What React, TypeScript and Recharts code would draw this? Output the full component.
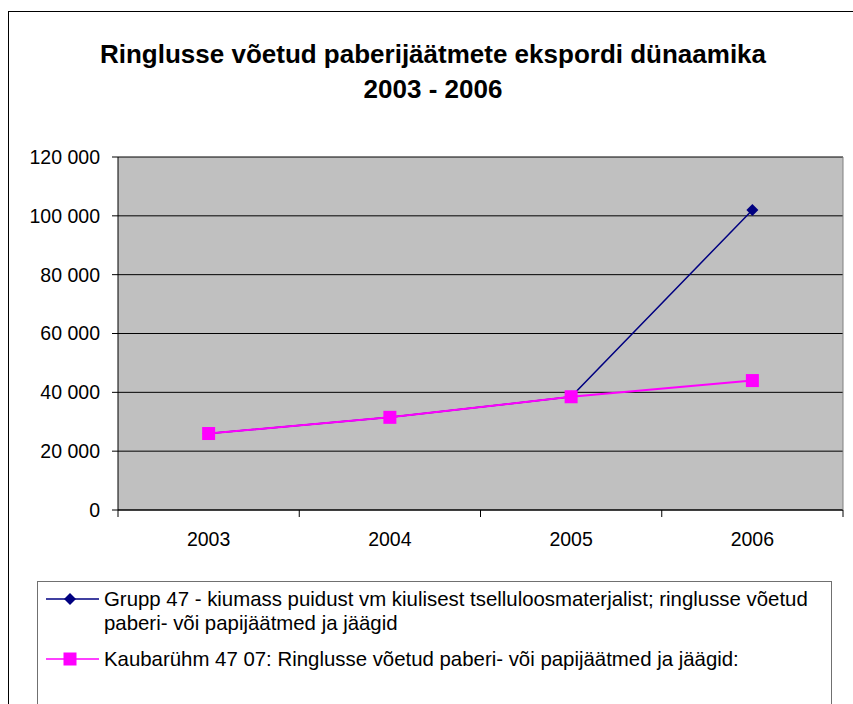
import { LineChart, Line, XAxis, YAxis, CartesianGrid } from 'recharts';

const YEARS = ['2003', '2004', '2005', '2006'];
const GRUPP_47 = [26000, 31500, 38500, 102000];
const KAUBARYHM_4707 = [26000, 31500, 38500, 44000];
const Y_TICKS = [0, 20000, 40000, 60000, 80000, 100000, 120000];

const TITLE = ['Ringlusse võetud paberijäätmete ekspordi dünaamika', '2003 - 2006'];
const NAME_GRUPP = 'Grupp 47 - kiumass puidust vm kiulisest tselluloosmaterjalist; ringlusse võetud paberi- või papijäätmed ja jäägid';
const NAME_KAUBA = 'Kaubarühm 47 07: Ringlusse võetud paberi- või papijäätmed ja jäägid:';

const data = YEARS.map((y, i) => ({ year: y, grupp: GRUPP_47[i], kauba: KAUBARYHM_4707[i] }));

const FONT = '"Liberation Sans", Arial, sans-serif';
const PLOT_LEFT = 118;
const PLOT_RIGHT = 843;
const PLOT_TOP = 157;
const PLOT_BOTTOM = 510;
const X_AXIS_H = 40;
const HALF_BAND = (PLOT_RIGHT - PLOT_LEFT) / YEARS.length / 2;

const fmt = (v: number) => String(v).replace(/\B(?=(\d{3})+(?!\d))/g, ' ');

const Diamond = ({ cx, cy }: any) => {
  if (cx == null || cy == null) return null;
  const r = 6;
  return <path d={`M${cx},${cy - r}L${cx + r},${cy}L${cx},${cy + r}L${cx - r},${cy}Z`} fill="#000080" />;
};

const Square = ({ cx, cy }: any) => {
  if (cx == null || cy == null) return null;
  const s = 13;
  return <rect x={cx - s / 2} y={cy - s / 2} width={s} height={s} fill="#FF00FF" />;
};

const YearTick = ({ x, payload, index }: any) => (
  <g>
    <line x1={x - HALF_BAND} x2={x - HALF_BAND} y1={PLOT_BOTTOM} y2={PLOT_BOTTOM + 7} stroke="#000" />
    {index === YEARS.length - 1 && (
      <line x1={x + HALF_BAND} x2={x + HALF_BAND} y1={PLOT_BOTTOM} y2={PLOT_BOTTOM + 7} stroke="#000" />
    )}
    <text x={x} y={539} textAnchor="middle" dominantBaseline="central" fontSize={19.5} fontFamily={FONT} fill="#000">
      {payload.value}
    </text>
  </g>
);

const LegendRow = ({ color, marker, label, top }: any) => (
  <div style={{ position: 'absolute', left: 0, top, width: 792, display: 'flex' }}>
    <svg width={66} height={24} style={{ flex: 'none' }}>
      <line x1={8} x2={61} y1={12} y2={12} stroke={color} strokeWidth={1.5} />
      {marker === 'diamond' ? <Diamond cx={32} cy={12} /> : <Square cx={32} cy={12} />}
    </svg>
    <div style={{ fontSize: 20.4, lineHeight: '24px' }}>{label}</div>
  </div>
);

export default function App() {
  return (
    <div style={{ position: 'absolute', left: 0, top: 0, width: 853, height: 704, overflow: 'hidden', background: '#fff', fontFamily: FONT }}>
      <div style={{ position: 'absolute', left: 8, top: 11, width: 900, height: 800, border: '1px solid #000' }} />
      <div style={{ position: 'absolute', left: 0, top: 37, width: 866, textAlign: 'center', fontWeight: 'bold', fontSize: 26, lineHeight: '35px' }}>
        {TITLE.map(t => <div key={t}>{t}</div>)}
      </div>
      <div style={{ position: 'absolute', left: 0, top: 0 }}>
        <LineChart width={853} height={704} data={data}
          margin={{ top: PLOT_TOP, right: 0, bottom: 704 - PLOT_BOTTOM - X_AXIS_H, left: 0 }}>
          <CartesianGrid vertical={false} fill="#C0C0C0" stroke="#000" fillOpacity={1} />
          <XAxis dataKey="year" padding={{ left: HALF_BAND, right: HALF_BAND }} axisLine={{ stroke: '#000' }}
            tickLine={false} tick={<YearTick />} height={X_AXIS_H} interval={0} />
          <XAxis xAxisId="top" orientation="top" dataKey="year" height={0} tick={false} tickLine={false}
            axisLine={{ stroke: '#808080' }} />
          <YAxis width={PLOT_LEFT} domain={[0, 120000]} ticks={Y_TICKS} tickFormatter={fmt} interval={0}
            axisLine={{ stroke: '#000' }} tickLine={{ stroke: '#000' }} tickSize={6} tickMargin={12}
            tick={{ fontSize: 19.5, fontFamily: FONT, fill: '#000' }} />
          <YAxis yAxisId="right" orientation="right" width={853 - PLOT_RIGHT} tick={false} tickLine={false}
            axisLine={{ stroke: '#808080' }} />
          <Line dataKey="grupp" name={NAME_GRUPP} stroke="#000080" strokeWidth={1.5} dot={<Diamond />}
            activeDot={false} isAnimationActive={false} />
          <Line dataKey="kauba" name={NAME_KAUBA} stroke="#FF00FF" strokeWidth={2} dot={<Square />}
            activeDot={false} isAnimationActive={false} />
        </LineChart>
      </div>
      <div style={{ position: 'absolute', left: 37, top: 581, width: 793, height: 130, border: '1px solid #707070' }}>
        <LegendRow color="#000080" marker="diamond" label={NAME_GRUPP} top={5} />
        <LegendRow color="#FF00FF" marker="square" label={NAME_KAUBA} top={65} />
      </div>
    </div>
  );
}
